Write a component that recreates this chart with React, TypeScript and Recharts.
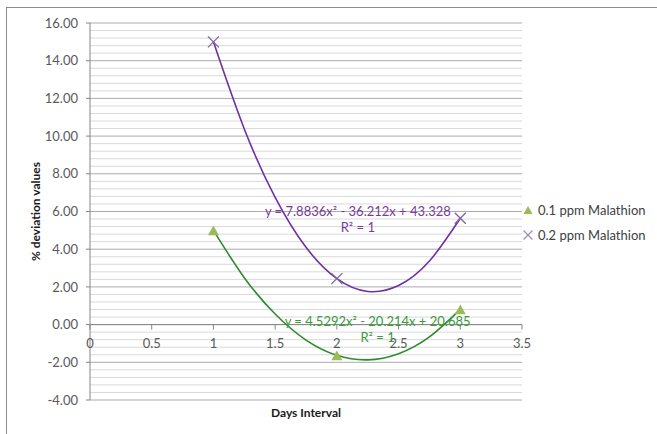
import React from 'react';
import {
  LineChart,
  Line,
  XAxis,
  YAxis,
  CartesianGrid,
  ReferenceLine,
  ReferenceDot,
  Legend
} from 'recharts';

// measured values (days 1..3)
const days = [1, 2, 3];
const lowDose = [5.0, -1.63, 0.81];
const highDose = [15.0, 2.44, 5.64];

// points
const trendDays = [1, 1.25, 1.5, 1.75, 2, 2.25, 2.5, 2.75, 3];
const lowTrend = [5.0, 2.49, 0.56, -0.82, -1.63, -1.87, -1.54, -0.65, 0.81];
const highTrend = [15.0, 10.38, 6.75, 4.1, 2.44, 1.76, 2.07, 3.37, 5.64];

const seriesNames = ['0.1 ppm Malathion', '0.2 ppm Malathion'];
const equations = ['y = 4.5292x² - 20.214x + 20.685', 'y = 7.8836x² - 36.212x + 43.328'];
const rSquared = ['R² = 1', 'R² = 1'];

const xTicks = [0, 0.5, 1, 1.5, 2, 2.5, 3, 3.5];
const yTicks = [-4, -2, 0, 2, 4, 6, 8, 10, 12, 14, 16];
// minor gridlines every 0.4, skipping the major ones
const minorTicks = Array.from({ length: 51 }, (_, i) => i)
  .filter((i) => i % 5 !== 0)
  .map((i) => Math.round((-4 + i * 0.4) * 10) / 10);

const FONT = 'Lato, "Noto Sans", sans-serif';
const GREEN_MARK = '#9BBB59';
const GREEN_LINE = '#2E8B2E';
const GREEN_TEXT = '#3A9A3A';
const PURPLE_MARK = '#8064A2';
const PURPLE_LINE = '#7030A0';

// where the equation blocks sit, in data units
const eqAnchors = [
  { x: 2.33, y: -0.23, color: GREEN_TEXT },
  { x: 2.17, y: 5.61, color: '#7A3A9A' }
];

const lowData = days.map((d, i) => ({ day: d, value: lowDose[i] }));
const highData = days.map((d, i) => ({ day: d, value: highDose[i] }));
const lowTrendData = trendDays.map((d, i) => ({ day: d, value: lowTrend[i] }));
const highTrendData = trendDays.map((d, i) => ({ day: d, value: highTrend[i] }));

const Triangle = ({ cx, cy, size = 11 }: any) => {
  if (cx == null || cy == null) return null;
  const h = size * 0.9;
  return (
    <polygon
      points={`${cx},${cy - h / 2} ${cx + size / 2},${cy + h / 2} ${cx - size / 2},${cy + h / 2}`}
      fill={GREEN_MARK}
    />
  );
};

const Cross = ({ cx, cy, size = 11, stroke = PURPLE_MARK }: any) => {
  if (cx == null || cy == null) return null;
  const s = size / 2;
  return (
    <g stroke={stroke} strokeWidth={1.3}>
      <line x1={cx - s} y1={cy - s} x2={cx + s} y2={cy + s} />
      <line x1={cx - s} y1={cy + s} x2={cx + s} y2={cy - s} />
    </g>
  );
};

const LegendContent = () => (
  <div style={{ fontFamily: FONT, fontSize: 13, color: '#404040' }}>
    {seriesNames.map((name, i) => (
      <div key={name} style={{ display: 'flex', alignItems: 'center', height: 25 }}>
        <svg width={14} height={14} style={{ marginRight: 2 }}>
          {i === 0 ? <Triangle cx={6} cy={7} size={9} /> : <Cross cx={6} cy={7} size={9} stroke="#A090C0" />}
        </svg>
        <span>{name}</span>
      </div>
    ))}
  </div>
);

export default function App() {
  return (
    <div style={{ position: 'absolute', left: 0, top: 0, width: 657, height: 434, overflow: 'hidden', background: '#fff' }}>
      <div
        style={{
          position: 'absolute',
          left: 6,
          top: 7,
          width: 700,
          height: 500,
          borderLeft: '1px solid #8c8c8c',
          borderTop: '1px solid #8c8c8c'
        }}
      />
      <LineChart
        width={657}
        height={434}
        margin={{ top: 23, right: 135, bottom: 0, left: 30 }}
        style={{ position: 'absolute', left: 0, top: 0, fontFamily: FONT }}
      >
        <CartesianGrid vertical={false} stroke="#ABABAB" />
        <XAxis
          type="number"
          dataKey="day"
          domain={[0, 3.5]}
          ticks={xTicks}
          axisLine={false}
          tickLine={false}
          tick={false}
          height={34}
          label={{
            content: ({ viewBox }: any) => (
              <text
                x={viewBox.x + viewBox.width / 2}
                y={viewBox.y + 12}
                textAnchor="middle"
                dominantBaseline="central"
                fontSize={12}
                fontWeight={700}
                fill="#1a1a1a"
              >
                Days Interval
              </text>
            )
          }}
        />
        <YAxis
          type="number"
          domain={[-4, 16]}
          ticks={yTicks}
          width={60}
          interval={0}
          tickFormatter={(v: number) => v.toFixed(2)}
          axisLine={{ stroke: '#868686' }}
          tickLine={{ stroke: '#868686' }}
          tickSize={4}
          tickMargin={8}
          tick={{ fontSize: 13, fill: '#595959' }}
          label={{
            content: ({ viewBox }: any) => {
              const x = viewBox.x + 5;
              const y = viewBox.y + viewBox.height / 2;
              return (
                <text
                  x={x}
                  y={y}
                  transform={`rotate(-90 ${x} ${y})`}
                  textAnchor="middle"
                  dominantBaseline="central"
                  fontSize={12}
                  fontWeight={700}
                  fill="#1a1a1a"
                >
                  % deviation values
                </text>
              );
            }
          }}
        />
        {minorTicks.map((v) => (
          <ReferenceLine key={`mg-${v}`} y={v} stroke="#D9D9D9" zIndex={-50} />
        ))}
        <ReferenceLine y={0} stroke="#868686" />
        {xTicks.map((t) => (
          <ReferenceDot
            key={`xt-${t}`}
            x={t}
            y={0}
            r={0}
            shape={({ cx, cy }: any) => (
              <g>
                <line x1={cx} y1={cy} x2={cx} y2={cy + 5} stroke="#868686" />
                <text x={cx} y={cy + 18} textAnchor="middle" dominantBaseline="central" fontSize={13} fill="#595959">
                  {String(t)}
                </text>
              </g>
            )}
          />
        ))}
        <Line
          data={lowTrendData}
          dataKey="value"
          type="natural"
          stroke={GREEN_LINE}
          strokeWidth={1.6}
          dot={false}
          legendType="none"
          isAnimationActive={false}
        />
        <Line
          data={highTrendData}
          dataKey="value"
          type="natural"
          stroke={PURPLE_LINE}
          strokeWidth={1.6}
          dot={false}
          legendType="none"
          isAnimationActive={false}
        />
        <Line
          data={lowData}
          dataKey="value"
          name={seriesNames[0]}
          stroke="none"
          dot={(p: any) => <Triangle key={`lt-${p.index}`} cx={p.cx} cy={p.cy} />}
          isAnimationActive={false}
        />
        <Line
          data={highData}
          dataKey="value"
          name={seriesNames[1]}
          stroke="none"
          dot={(p: any) => <Cross key={`hx-${p.index}`} cx={p.cx} cy={p.cy} />}
          isAnimationActive={false}
        />
        {eqAnchors.map((a, i) => (
          <ReferenceDot
            key={`eq-${i}`}
            x={a.x}
            y={a.y}
            r={0}
            shape={({ cx, cy }: any) => (
              <g fontSize={13} fill={a.color} textAnchor="middle">
                <text x={cx} y={cy - 8} dominantBaseline="central">{equations[i]}</text>
                <text x={cx} y={cy + 8} dominantBaseline="central">{rSquared[i]}</text>
              </g>
            )}
          />
        ))}
        <Legend
          layout="vertical"
          align="center"
          verticalAlign="middle"
          wrapperStyle={{ left: 522, top: 197, width: 135 }}
          content={<LegendContent />}
        />
      </LineChart>
    </div>
  );
}
